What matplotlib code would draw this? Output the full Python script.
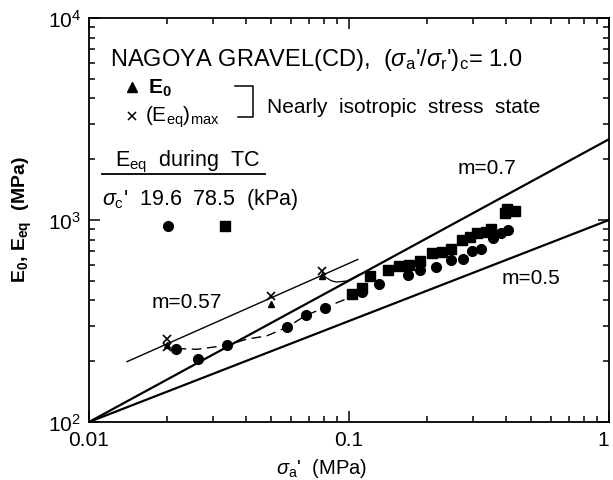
import numpy as np
import matplotlib
matplotlib.use("Agg")
import matplotlib.pyplot as plt
from matplotlib.ticker import FixedLocator, FixedFormatter, LogLocator, NullFormatter

plt.rcParams['font.family'] = ['Liberation Sans', 'DejaVu Sans']
plt.rcParams['mathtext.fontset'] = 'custom'
plt.rcParams['mathtext.rm'] = 'Liberation Sans'
plt.rcParams['mathtext.it'] = 'Liberation Sans:italic'
plt.rcParams['mathtext.bf'] = 'Liberation Sans:bold'

# Eeq during TC, sigma_c' = 19.6 kPa (circles)
circ_x = [0.0217, 0.0263, 0.0340, 0.0576, 0.0682, 0.0806, 0.112, 0.130, 0.169,
          0.1875, 0.217, 0.246, 0.274, 0.2965, 0.322, 0.357, 0.384, 0.410]
circ_y = [231, 205, 240, 294, 337, 368, 438, 480, 535,
          563, 582, 635, 643, 705, 721, 817, 865, 891]

# Eeq during TC, sigma_c' = 78.5 kPa (squares)
sq_x = [0.1024, 0.112, 0.1205, 0.1416, 0.1557, 0.170, 0.1875, 0.2094, 0.227,
        0.2468, 0.2715, 0.292, 0.310, 0.3365, 0.352, 0.398, 0.4055, 0.435]
sq_y = [428, 463, 528, 565, 589, 600, 627, 683, 691,
        722, 792, 825, 865, 877, 898, 1085, 1135, 1105]

# nearly isotropic stress state
eqmax_x = [0.0199, 0.0199, 0.050, 0.0787]
eqmax_y = [257, 234, 419, 557]
e0_x = [0.0199, 0.050, 0.0787]
e0_y = [240, 383, 530]

# dashed trend through 19.6 kPa points
dash_x = [0.0217, 0.026, 0.034, 0.0404, 0.0483, 0.0576, 0.0682, 0.0806, 0.101]
dash_y = [231, 229, 240, 257, 267, 294, 337, 368, 414]

# small hook from the last (Eeq)max point
hook_x = [0.0787, 0.081, 0.0855, 0.0897, 0.098, 0.110]
hook_y = [557, 522, 500, 493, 499, 538]

# power-law reference lines E = C * sigma^m
m_lines = [0.7, 0.5]
m_line_x = [0.01, 1.0]
m057_x = [0.014, 0.108]
m057_C = 2267

fig = plt.figure(figsize=(6.13, 4.81), dpi=100)
ax = fig.add_axes([89 / 613, 1 - 423 / 481, 520 / 613, 404 / 481])
ax.set_xscale('log')
ax.set_yscale('log')
ax.set_xlim(0.01, 1)
ax.set_ylim(100, 10000)

xs = np.array(m_line_x)
for m in m_lines:
    ax.plot(xs, 100 * (xs / 0.01) ** m, color='black', lw=1.6)
xs = np.array(m057_x)
ax.plot(xs, m057_C * xs ** 0.57, color='black', lw=1.0)

ax.plot(dash_x, dash_y, color='black', lw=1.0, dashes=(7, 4))
ax.plot(hook_x, hook_y, color='black', lw=0.9)

ax.plot(circ_x, circ_y, 'o', color='black', ms=7)
ax.plot(sq_x, sq_y, 's', color='black', ms=6.5)
ax.plot(e0_x, e0_y, '^', color='black', ms=5)
ax.plot(eqmax_x, eqmax_y, 'x', color='black', ms=6, mew=1.2)

ax.text(0.01746, 396, 'm=0.57', fontsize=15, va='center')
ax.text(0.262, 1815, 'm=0.7', fontsize=15, va='center')
ax.text(0.386, 520, 'm=0.5', fontsize=15, va='center')

# legend block
T = ax.transAxes
ax.text(0.040, 0.8985, r"NAGOYA GRAVEL(CD),  $(\sigma_{\rm a}$'/$\sigma_{\rm r}$'$)_{\rm c}$= 1.0",
        transform=T, fontsize=17, va='center')
ax.plot([0.083], [0.829], '^', color='black', ms=7, transform=T)
ax.text(0.113, 0.829, r"E$_\mathbf{0}$", transform=T, fontsize=15, fontweight='bold', va='center')
ax.plot([0.083], [0.757], 'x', color='black', ms=6, mew=1.1, transform=T)
ax.text(0.108, 0.757, r"(E$_{\rm eq}$)$_{\rm max}$", transform=T, fontsize=15, va='center')
ax.plot([0.281, 0.315, 0.315, 0.287], [0.832, 0.832, 0.755, 0.755], color='black', lw=1.1, transform=T)
ax.text(0.342, 0.782, "Nearly  isotropic  stress  state", transform=T, fontsize=15, va='center')
ax.text(0.050, 0.646, r"E$_{\rm eq}$  during  TC", transform=T, fontsize=15.5, va='center')
ax.plot([0.025, 0.338], [0.614, 0.614], color='black', lw=1.3, transform=T)
ax.text(0.025, 0.552, r"$\sigma_{\rm c}$'  19.6  78.5  (kPa)", transform=T, fontsize=15.5, va='center')
ax.plot([0.152], [0.485], 'o', color='black', ms=7, transform=T)
ax.plot([0.2615], [0.485], 's', color='black', ms=6.5, transform=T)

# ticks
ax.tick_params(which='both', direction='in', top=True, right=True, width=1.1)
ax.tick_params(which='major', length=8, labelsize=15, pad=6)
ax.tick_params(which='minor', length=4.5)
ax.xaxis.set_major_locator(FixedLocator([0.01, 0.1, 1]))
ax.xaxis.set_major_formatter(FixedFormatter(['0.01', '0.1', '1']))
ax.xaxis.set_minor_locator(LogLocator(base=10, subs=np.arange(2, 10)))
ax.xaxis.set_minor_formatter(NullFormatter())
ax.yaxis.set_minor_locator(LogLocator(base=10, subs=np.arange(2, 10)))
ax.yaxis.set_minor_formatter(NullFormatter())
for s in ax.spines.values():
    s.set_linewidth(1.3)
fig.canvas.draw()
ax.get_xticklabels()[-1].set_horizontalalignment('right')

fig.text(22 / 613, 1 - 220 / 481, r"E$_\mathbf{0}$, E$_\mathbf{eq}$  (MPa)", rotation=90,
         fontsize=14, fontweight='bold', ha='center', va='center')
fig.text(322 / 613, 1 - 469 / 481, r"$\sigma_{\rm a}$'  (MPa)", fontsize=14.5, ha='center', va='center')

fig.savefig('out.png', dpi=100)
